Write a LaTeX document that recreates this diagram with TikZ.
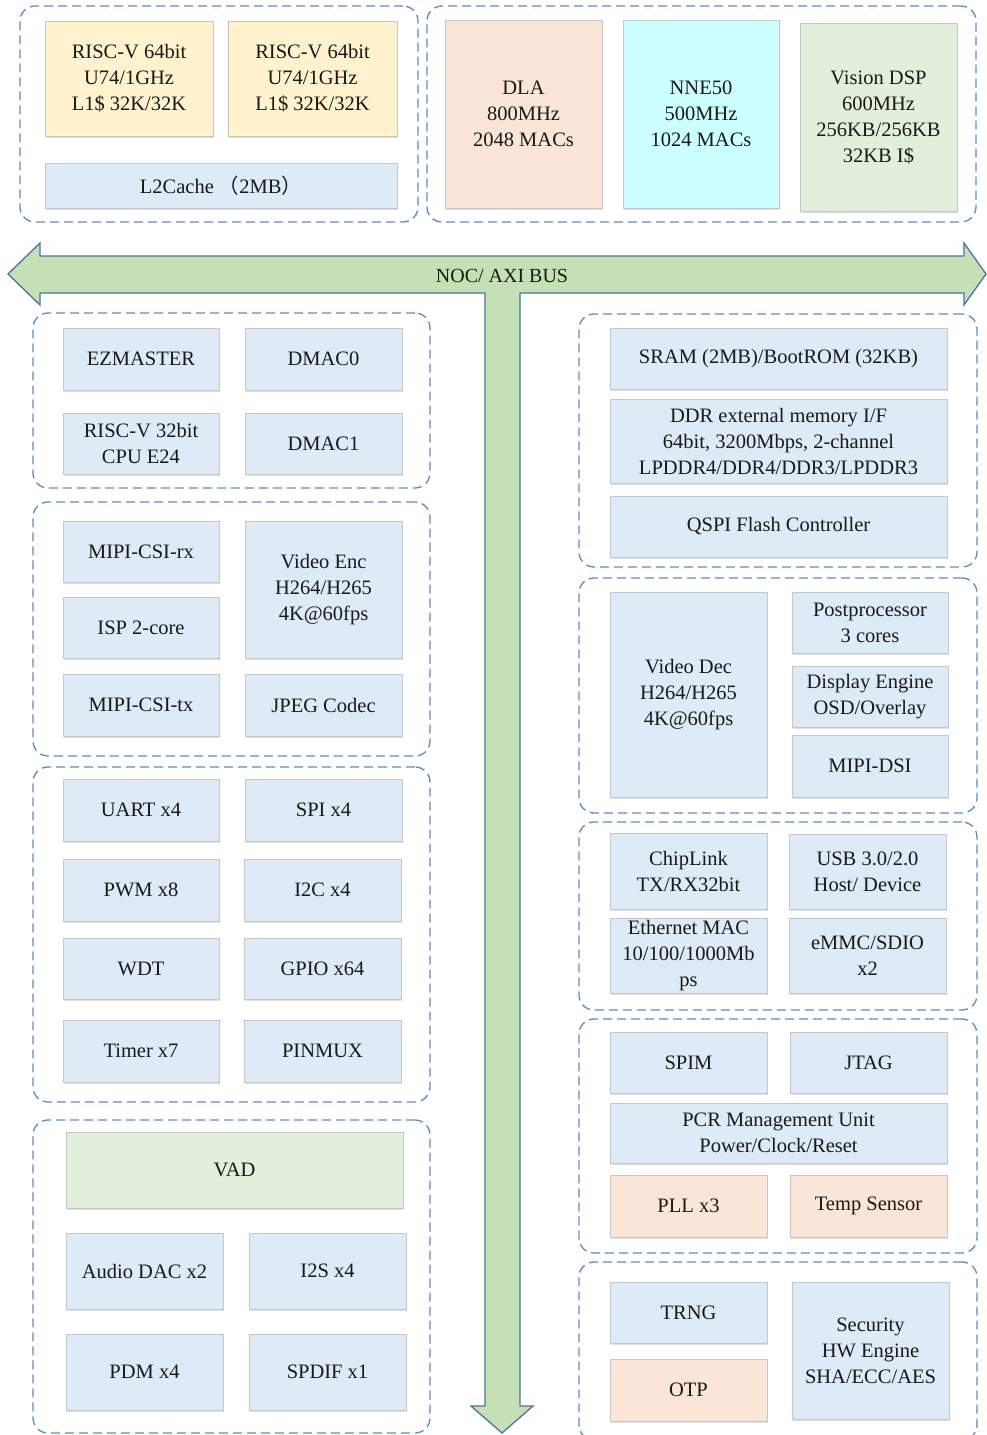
\documentclass[tikz,border=0pt]{standalone}
\usepackage{fontspec}
\setmainfont{Liberation Serif}
\newfontfamily\cjk{Noto Sans CJK SC}
\usetikzlibrary{fit,shadows}
\definecolor{boxblue}{RGB}{222,234,246}
\definecolor{boxyellow}{RGB}{255,242,204}
\definecolor{boxpeach}{RGB}{251,229,214}
\definecolor{boxcyan}{RGB}{204,255,255}
\definecolor{boxgreen}{RGB}{226,239,218}
\definecolor{boxline}{RGB}{196,200,205}
\definecolor{grpblue}{RGB}{88,142,198}
\definecolor{busfill}{RGB}{197,224,180}
\definecolor{busline}{RGB}{74,116,166}
\definecolor{txt}{RGB}{25,25,25}
\begin{document}
\begin{tikzpicture}[x=1pt,y=-1pt,
  area/.style n args={4}{at={({(#1+#3)/2},{(#2+#4)/2})}, minimum width={#3-#1}, minimum height={#4-#2}},
  bx/.style={draw=boxline, line width=0.8pt, fill=boxblue, inner sep=0pt, align=center,
    font=\fontsize{20.5}{26}\selectfont, text=txt,
    drop shadow={shadow xshift=1.2pt, shadow yshift=-2.2pt, opacity=0.2, fill=black!60}},
  yel/.style={bx, fill=boxyellow},
  pch/.style={bx, fill=boxpeach},
  cyn/.style={bx, fill=boxcyan},
  grn/.style={bx, fill=boxgreen},
  grp/.style={draw=grpblue, line width=1.3pt, dash pattern=on 9pt off 5pt, rounded corners=15pt, inner sep=0pt}]
\useasboundingbox (0,0) rectangle (987,1435);
\fill[white] (0,0) rectangle (987,1435);

% ---------- bus ----------
\draw[busline, line width=1.3pt, fill=busfill, line join=miter]
  (8,274) -- (40,243) -- (40,256) -- (964,256) -- (964,243) -- (986,274) -- (964,305) -- (964,293)
  -- (520,293) -- (520,1406) -- (533,1406) -- (502,1433) -- (471,1406) -- (485,1406) -- (485,293)
  -- (40,293) -- (40,305) -- cycle;
\node[font=\fontsize{20}{24}\selectfont, text=txt] (bus) at (502,276) {NOC/ AXI BUS};

% ---------- top groups ----------
\node[grp, area={20}{6}{418}{222}] (gTL) {};
\node[grp, area={427}{6}{976}{222}] (gTR) {};
\node[yel, area={45}{21}{213}{136}] (cpu1) {RISC-V 64bit\\U74/1GHz\\L1\$ 32K/32K};
\node[yel, area={228}{21}{397}{136}] (cpu2) {RISC-V 64bit\\U74/1GHz\\L1\$ 32K/32K};
\node[bx, area={45}{163}{397}{208}] (l2) {L2Cache {\cjk （}2MB{\cjk ）}};
\node[pch, area={445}{20}{602}{208}] (dla) {DLA\\800MHz\\2048 MACs};
\node[cyn, area={623}{20}{779}{208}] (nne) {NNE50\\500MHz\\1024 MACs};
\node[grn, area={800}{23}{957}{211}] (vdsp) {Vision DSP\\600MHz\\256KB/256KB\\32KB I\$};

% ---------- left column ----------
\node[grp, area={33}{313}{430}{488}] (gA) {};
\node[bx, area={63}{328}{219}{390}] (ezm) {EZMASTER};
\node[bx, area={245}{328}{402}{390}] (dmac0) {DMAC0};
\node[bx, area={63}{413}{219}{474}] (rv32) {RISC-V 32bit\\CPU E24};
\node[bx, area={245}{413}{402}{474}] (dmac1) {DMAC1};

\node[grp, area={33}{502}{430}{756}] (gB) {};
\node[bx, area={63}{521}{219}{582}] (csirx) {MIPI-CSI-rx};
\node[bx, area={63}{597}{219}{658}] (isp) {ISP 2-core};
\node[bx, area={63}{674}{219}{736}] (csitx) {MIPI-CSI-tx};
\node[bx, area={245}{521}{402}{658}] (venc) {Video Enc\\H264/H265\\4K@60fps};
\node[bx, area={245}{674}{402}{736}] (jpeg) {JPEG Codec};

\node[grp, area={33}{767}{430}{1102}] (gE) {};
\node[bx, area={63}{779}{219}{841}] (uart) {UART x4};
\node[bx, area={245}{779}{402}{841}] (spi) {SPI x4};
\node[bx, area={63}{859}{219}{921}] (pwm) {PWM x8};
\node[bx, area={244}{859}{401}{921}] (i2c) {I2C x4};
\node[bx, area={63}{938}{219}{999}] (wdt) {WDT};
\node[bx, area={244}{938}{401}{999}] (gpio) {GPIO x64};
\node[bx, area={63}{1020}{219}{1082}] (timer) {Timer x7};
\node[bx, area={244}{1020}{401}{1082}] (pinmux) {PINMUX};

\node[grp, area={33}{1120}{430}{1433}] (gH) {};
\node[grn, area={66}{1132}{403}{1208}] (vad) {VAD};
\node[bx, area={66}{1233}{223}{1309}] (dac) {Audio DAC x2};
\node[bx, area={249}{1233}{406}{1309}] (i2s) {I2S x4};
\node[bx, area={66}{1334}{223}{1410}] (pdm) {PDM x4};
\node[bx, area={249}{1334}{406}{1410}] (spdif) {SPDIF x1};

% ---------- right column ----------
\node[grp, area={579}{314}{977}{567}] (gC) {};
\node[bx, area={610}{328}{947}{389}] (sram) {SRAM (2MB)/BootROM (32KB)};
\node[bx, area={610}{399}{947}{483}] (ddr) {DDR external memory I/F\\64bit, 3200Mbps, 2-channel\\LPDDR4/DDR4/DDR3/LPDDR3};
\node[bx, area={610}{496}{947}{557}] (qspi) {QSPI Flash Controller};

\node[grp, area={579}{578}{977}{813}] (gD) {};
\node[bx, area={610}{592}{767}{797}] (vdec) {Video Dec\\H264/H265\\4K@60fps};
\node[bx, area={792}{592}{948}{653}] (post) {Postprocessor\\3 cores};
\node[bx, area={792}{666}{948}{727}] (disp) {Display Engine\\OSD/Overlay};
\node[bx, area={792}{735}{948}{797}] (dsi) {MIPI-DSI};

\node[grp, area={579}{822}{977}{1010}] (gF) {};
\node[bx, area={610}{833}{767}{909}] (chip) {ChipLink\\TX/RX32bit};
\node[bx, area={789}{834}{946}{909}] (usb) {USB 3.0/2.0\\Host/ Device};
\node[bx, area={610}{918}{767}{993}] (eth) {Ethernet MAC\\10/100/1000Mb\\ps};
\node[bx, area={789}{918}{946}{993}] (emmc) {eMMC/SDIO\\x2};

\node[grp, area={579}{1019}{977}{1253}] (gG) {};
\node[bx, area={610}{1032}{767}{1093}] (spim) {SPIM};
\node[bx, area={790}{1032}{947}{1093}] (jtag) {JTAG};
\node[bx, area={610}{1103}{947}{1163}] (pcr) {PCR Management Unit\\Power/Clock/Reset};
\node[pch, area={610}{1175}{767}{1237}] (pll) {PLL x3};
\node[pch, area={790}{1175}{947}{1237}] (temp) {Temp Sensor};

\node[grp, area={579}{1262}{977}{1440}] (gI) {};
\node[bx, area={610}{1282}{767}{1343}] (trng) {TRNG};
\node[pch, area={610}{1359}{767}{1421}] (otp) {OTP};
\node[bx, area={792}{1282}{949}{1419}] (sec) {Security\\HW Engine\\SHA/ECC/AES};
\end{tikzpicture}
\end{document}
